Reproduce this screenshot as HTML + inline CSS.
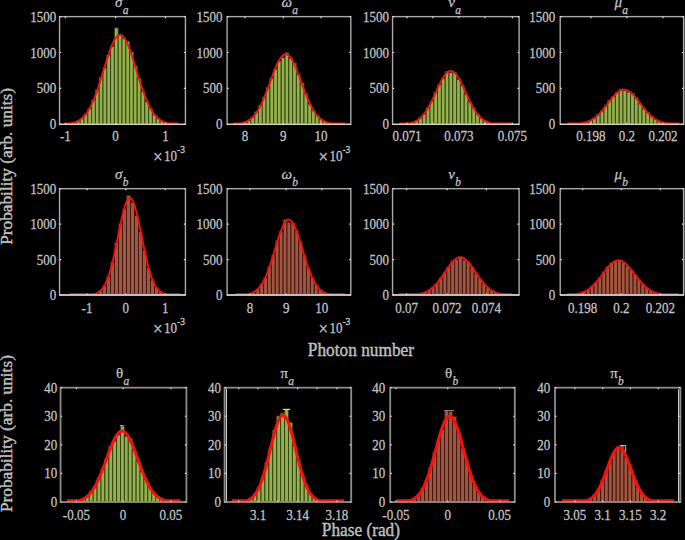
<!DOCTYPE html>
<html><head><meta charset="utf-8"><title>Histograms</title><style>
html,body{margin:0;padding:0;background:#000;width:685px;height:540px;overflow:hidden}
.t{font-family:"Liberation Serif",serif;font-size:13px;fill:#bcbcbc;stroke:#d4d4d4;stroke-width:0.25px}
.ti{font-family:"Liberation Serif",serif;font-style:italic;font-size:15px;fill:#bcbcbc;stroke:#d4d4d4;stroke-width:0.25px}
.lb{font-family:"Liberation Serif",serif;font-size:17.3px;fill:#b4b4b4;stroke:#d8d8d8;stroke-width:0.35px}
</style></head>
<body>
<svg width="685" height="540" viewBox="0 0 685 540" style="display:block">
<rect width="685" height="540" fill="#000"/>
<g fill="#94b14b" stroke="#34441a" stroke-width="1"><rect x="65.00" y="123.86" width="3.80" height="0.47"/><rect x="68.80" y="123.35" width="3.80" height="0.98"/><rect x="72.60" y="122.36" width="3.80" height="1.97"/><rect x="76.40" y="120.82" width="3.80" height="3.51"/><rect x="80.20" y="118.15" width="3.80" height="6.18"/><rect x="84.00" y="113.98" width="3.80" height="10.35"/><rect x="87.80" y="108.55" width="3.80" height="15.78"/><rect x="91.60" y="100.12" width="3.80" height="24.21"/><rect x="95.40" y="89.74" width="3.80" height="34.59"/><rect x="99.20" y="77.32" width="3.80" height="47.01"/><rect x="103.00" y="67.82" width="3.80" height="56.51"/><rect x="106.80" y="55.06" width="3.80" height="69.27"/><rect x="110.60" y="46.59" width="3.80" height="77.74"/><rect x="114.40" y="27.90" width="3.80" height="96.43"/><rect x="118.20" y="34.30" width="3.80" height="90.03"/><rect x="122.00" y="38.10" width="3.80" height="86.23"/><rect x="125.80" y="41.33" width="3.80" height="83.00"/><rect x="129.60" y="51.95" width="3.80" height="72.38"/><rect x="133.40" y="65.87" width="3.80" height="58.46"/><rect x="137.20" y="78.62" width="3.80" height="45.71"/><rect x="141.00" y="91.59" width="3.80" height="32.74"/><rect x="144.80" y="101.54" width="3.80" height="22.79"/><rect x="148.60" y="108.46" width="3.80" height="15.87"/><rect x="152.40" y="114.67" width="3.80" height="9.66"/><rect x="156.20" y="118.47" width="3.80" height="5.86"/><rect x="160.00" y="120.99" width="3.80" height="3.34"/><rect x="163.80" y="122.56" width="3.80" height="1.77"/><rect x="167.60" y="123.39" width="3.80" height="0.94"/><rect x="171.40" y="123.88" width="3.80" height="0.45"/></g>
<polyline points="65.90,123.43 66.70,123.43 67.51,123.43 68.31,123.43 69.11,123.43 69.91,123.43 70.72,123.35 71.52,123.20 72.32,123.03 73.13,122.83 73.93,122.60 74.73,122.35 75.53,122.07 76.34,121.75 77.14,121.40 77.94,121.00 78.75,120.56 79.55,120.07 80.35,119.53 81.15,118.93 81.96,118.28 82.76,117.56 83.56,116.77 84.37,115.91 85.17,114.98 85.97,113.96 86.77,112.87 87.58,111.69 88.38,110.42 89.18,109.06 89.99,107.61 90.79,106.07 91.59,104.43 92.39,102.69 93.20,100.86 94.00,98.94 94.80,96.92 95.61,94.81 96.41,92.62 97.21,90.35 98.01,88.00 98.82,85.58 99.62,83.10 100.42,80.57 101.23,77.99 102.03,75.38 102.83,72.74 103.63,70.10 104.44,67.45 105.24,64.82 106.04,62.21 106.85,59.64 107.65,57.13 108.45,54.69 109.25,52.34 110.06,50.08 110.86,47.94 111.66,45.92 112.47,44.04 113.27,42.31 114.07,40.74 114.87,39.35 115.68,38.15 116.48,37.13 117.28,36.32 118.09,35.71 118.89,35.30 119.69,35.12 120.49,35.14 121.30,35.38 122.10,35.83 122.90,36.49 123.71,37.35 124.51,38.41 125.31,39.66 126.11,41.09 126.92,42.69 127.72,44.46 128.52,46.37 129.33,48.42 130.13,50.59 130.93,52.87 131.73,55.25 132.54,57.71 133.34,60.23 134.14,62.81 134.95,65.42 135.75,68.06 136.55,70.71 137.35,73.35 138.16,75.99 138.96,78.59 139.76,81.16 140.57,83.68 141.37,86.15 142.17,88.55 142.97,90.88 143.78,93.14 144.58,95.31 145.38,97.39 146.19,99.39 146.99,101.29 147.79,103.10 148.59,104.81 149.40,106.43 150.20,107.96 151.00,109.38 151.81,110.72 152.61,111.97 153.41,113.13 154.21,114.20 155.02,115.20 155.82,116.11 156.62,116.96 157.43,117.73 158.23,118.43 159.03,119.08 159.83,119.66 160.64,120.19 161.44,120.67 162.24,121.10 163.05,121.48 163.85,121.83 164.65,122.14 165.45,122.41 166.26,122.66 167.06,122.88 167.86,123.07 168.67,123.24 169.47,123.39 170.27,123.43 171.07,123.43 171.88,123.43 172.68,123.43 173.48,123.43 174.29,123.43 175.09,123.43 175.89,123.43 176.69,123.43 177.50,123.43 178.30,123.43" fill="none" stroke="#ff0c0c" stroke-width="1.85" stroke-linejoin="round"/>
<rect x="59.56" y="16.62" width="125.88" height="107.71" fill="none" stroke="#aaaaaa" stroke-width="1.4"/>
<line x1="59.56" y1="124.33" x2="185.44" y2="124.33" stroke="#d2d2d2" stroke-width="1.4"/>
<path d="M65.30 16.62v1.6M65.30 124.33v-1.6M115.60 16.62v1.6M115.60 124.33v-1.6M165.40 16.62v1.6M165.40 124.33v-1.6M59.56 124.33h1.6M185.44 124.33h-1.6M59.56 88.43h1.6M185.44 88.43h-1.6M59.56 52.52h1.6M185.44 52.52h-1.6M59.56 16.62h1.6M185.44 16.62h-1.6" stroke="#dddddd" stroke-width="1.2" fill="none"/>
<text transform="translate(56.16 129.33) scale(1 1.1)" text-anchor="end" class="t">0</text>
<text transform="translate(56.16 93.43) scale(1 1.1)" text-anchor="end" class="t">500</text>
<text transform="translate(56.16 57.52) scale(1 1.1)" text-anchor="end" class="t">1000</text>
<text transform="translate(56.16 21.62) scale(1 1.1)" text-anchor="end" class="t">1500</text>
<text transform="translate(65.30 140.83) scale(1 1.1)" text-anchor="middle" class="t">-1</text>
<text transform="translate(115.60 140.83) scale(1 1.1)" text-anchor="middle" class="t">0</text>
<text transform="translate(165.40 140.83) scale(1 1.1)" text-anchor="middle" class="t">1</text>
<text transform="translate(184.94 160.63) scale(1 1.1)" text-anchor="end" class="t"><tspan font-size="17" dy="2.1">×</tspan><tspan dy="-2.1" dx="1.4">10</tspan><tspan dy="-6.5" font-size="9.5">-3</tspan></text>
<text x="115.00" y="6.62" class="ti"><tspan>σ</tspan><tspan dy="7.6" dx="0.3" font-size="11.5">a</tspan></text>
<g fill="#94b14b" stroke="#34441a" stroke-width="1"><rect x="235.76" y="123.77" width="3.79" height="0.56"/><rect x="239.55" y="123.17" width="3.79" height="1.16"/><rect x="243.34" y="122.03" width="3.79" height="2.30"/><rect x="247.13" y="120.15" width="3.79" height="4.18"/><rect x="250.92" y="117.18" width="3.79" height="7.15"/><rect x="254.71" y="111.95" width="3.79" height="12.38"/><rect x="258.50" y="105.26" width="3.79" height="19.07"/><rect x="262.29" y="97.01" width="3.79" height="27.32"/><rect x="266.08" y="87.41" width="3.79" height="36.92"/><rect x="269.87" y="78.33" width="3.79" height="46.00"/><rect x="273.66" y="69.02" width="3.79" height="55.31"/><rect x="277.45" y="60.98" width="3.79" height="63.35"/><rect x="281.24" y="57.54" width="3.79" height="66.79"/><rect x="285.03" y="52.93" width="3.79" height="71.40"/><rect x="288.82" y="58.33" width="3.79" height="66.00"/><rect x="292.61" y="63.06" width="3.79" height="61.27"/><rect x="296.40" y="74.48" width="3.79" height="49.85"/><rect x="300.19" y="82.90" width="3.79" height="41.43"/><rect x="303.98" y="93.60" width="3.79" height="30.73"/><rect x="307.77" y="104.11" width="3.79" height="20.22"/><rect x="311.56" y="110.69" width="3.79" height="13.64"/><rect x="315.35" y="115.32" width="3.79" height="9.01"/><rect x="319.14" y="119.21" width="3.79" height="5.12"/><rect x="322.93" y="121.38" width="3.79" height="2.95"/><rect x="326.72" y="122.86" width="3.79" height="1.47"/><rect x="330.51" y="123.63" width="3.79" height="0.70"/><rect x="334.30" y="123.99" width="3.79" height="0.34"/></g>
<polyline points="233.30,123.43 234.10,123.43 234.89,123.43 235.69,123.43 236.49,123.43 237.28,123.43 238.08,123.43 238.88,123.43 239.67,123.43 240.47,123.36 241.26,123.21 242.06,123.03 242.86,122.83 243.65,122.60 244.45,122.34 245.25,122.05 246.04,121.73 246.84,121.36 247.64,120.96 248.43,120.51 249.23,120.01 250.03,119.45 250.82,118.84 251.62,118.18 252.41,117.44 253.21,116.64 254.01,115.78 254.80,114.83 255.60,113.82 256.40,112.72 257.19,111.55 257.99,110.29 258.79,108.95 259.58,107.53 260.38,106.02 261.18,104.44 261.97,102.77 262.77,101.02 263.56,99.20 264.36,97.31 265.16,95.36 265.95,93.34 266.75,91.28 267.55,89.16 268.34,87.02 269.14,84.85 269.94,82.66 270.73,80.47 271.53,78.28 272.32,76.12 273.12,73.98 273.92,71.90 274.71,69.87 275.51,67.91 276.31,66.03 277.10,64.26 277.90,62.59 278.70,61.05 279.49,59.64 280.29,58.37 281.09,57.26 281.88,56.31 282.68,55.53 283.48,54.92 284.27,54.50 285.07,54.26 285.86,54.20 286.66,54.34 287.46,54.65 288.25,55.15 289.05,55.83 289.85,56.68 290.64,57.70 291.44,58.88 292.24,60.20 293.03,61.67 293.83,63.26 294.62,64.98 295.42,66.80 296.22,68.71 297.01,70.69 297.81,72.75 298.61,74.86 299.40,77.01 300.20,79.18 301.00,81.37 301.79,83.56 302.59,85.75 303.39,87.91 304.18,90.04 304.98,92.13 305.77,94.18 306.57,96.17 307.37,98.10 308.16,99.96 308.96,101.75 309.76,103.46 310.55,105.10 311.35,106.65 312.15,108.13 312.94,109.51 313.74,110.82 314.54,112.04 315.33,113.18 316.13,114.25 316.93,115.23 317.72,116.14 318.52,116.98 319.31,117.75 320.11,118.46 320.91,119.10 321.70,119.69 322.50,120.22 323.30,120.70 324.09,121.13 324.89,121.52 325.69,121.87 326.48,122.18 327.28,122.45 328.08,122.70 328.87,122.92 329.67,123.11 330.46,123.28 331.26,123.42 332.06,123.43 332.85,123.43 333.65,123.43 334.45,123.43 335.24,123.43 336.04,123.43 336.84,123.43 337.63,123.43 338.43,123.43 339.23,123.43 340.02,123.43 340.82,123.43 341.61,123.43 342.41,123.43 343.21,123.43 344.00,123.43 344.80,123.43" fill="none" stroke="#ff0c0c" stroke-width="1.85" stroke-linejoin="round"/>
<rect x="227.10" y="16.62" width="123.70" height="107.71" fill="none" stroke="#aaaaaa" stroke-width="1.4"/>
<line x1="227.10" y1="124.33" x2="350.80" y2="124.33" stroke="#d2d2d2" stroke-width="1.4"/>
<path d="M245.00 16.62v1.6M245.00 124.33v-1.6M283.30 16.62v1.6M283.30 124.33v-1.6M321.00 16.62v1.6M321.00 124.33v-1.6M227.10 124.33h1.6M350.80 124.33h-1.6M227.10 88.43h1.6M350.80 88.43h-1.6M227.10 52.52h1.6M350.80 52.52h-1.6M227.10 16.62h1.6M350.80 16.62h-1.6" stroke="#dddddd" stroke-width="1.2" fill="none"/>
<text transform="translate(222.40 129.33) scale(1 1.1)" text-anchor="end" class="t">0</text>
<text transform="translate(222.40 93.43) scale(1 1.1)" text-anchor="end" class="t">500</text>
<text transform="translate(222.40 57.52) scale(1 1.1)" text-anchor="end" class="t">1000</text>
<text transform="translate(222.40 21.62) scale(1 1.1)" text-anchor="end" class="t">1500</text>
<text transform="translate(245.00 140.83) scale(1 1.1)" text-anchor="middle" class="t">8</text>
<text transform="translate(283.30 140.83) scale(1 1.1)" text-anchor="middle" class="t">9</text>
<text transform="translate(321.00 140.83) scale(1 1.1)" text-anchor="middle" class="t">10</text>
<text transform="translate(350.30 160.63) scale(1 1.1)" text-anchor="end" class="t"><tspan font-size="17" dy="2.1">×</tspan><tspan dy="-2.1" dx="1.4">10</tspan><tspan dy="-6.5" font-size="9.5">-3</tspan></text>
<text x="281.45" y="6.62" class="ti"><tspan>ω</tspan><tspan dy="7.6" dx="0.3" font-size="11.5">a</tspan></text>
<g fill="#94b14b" stroke="#34441a" stroke-width="1"><rect x="403.40" y="123.86" width="3.80" height="0.47"/><rect x="407.20" y="123.34" width="3.80" height="0.99"/><rect x="411.00" y="122.43" width="3.80" height="1.90"/><rect x="414.80" y="120.72" width="3.80" height="3.61"/><rect x="418.60" y="118.06" width="3.80" height="6.27"/><rect x="422.40" y="114.05" width="3.80" height="10.28"/><rect x="426.20" y="107.55" width="3.80" height="16.78"/><rect x="430.00" y="101.35" width="3.80" height="22.98"/><rect x="433.80" y="92.43" width="3.80" height="31.90"/><rect x="437.60" y="84.53" width="3.80" height="39.80"/><rect x="441.40" y="78.42" width="3.80" height="45.91"/><rect x="445.20" y="71.52" width="3.80" height="52.81"/><rect x="449.00" y="72.48" width="3.80" height="51.85"/><rect x="452.80" y="72.25" width="3.80" height="52.08"/><rect x="456.60" y="79.34" width="3.80" height="44.99"/><rect x="460.40" y="85.44" width="3.80" height="38.89"/><rect x="464.20" y="94.17" width="3.80" height="30.16"/><rect x="468.00" y="101.98" width="3.80" height="22.35"/><rect x="471.80" y="108.03" width="3.80" height="16.30"/><rect x="475.60" y="113.94" width="3.80" height="10.39"/><rect x="479.40" y="118.30" width="3.80" height="6.03"/><rect x="483.20" y="120.77" width="3.80" height="3.56"/><rect x="487.00" y="122.55" width="3.80" height="1.78"/><rect x="490.80" y="123.44" width="3.80" height="0.89"/><rect x="494.60" y="123.90" width="3.80" height="0.43"/></g>
<polyline points="399.30,123.43 400.11,123.43 400.91,123.43 401.72,123.43 402.53,123.43 403.34,123.43 404.14,123.43 404.95,123.43 405.76,123.43 406.56,123.43 407.37,123.43 408.18,123.43 408.99,123.38 409.79,123.22 410.60,123.04 411.41,122.83 412.21,122.59 413.02,122.33 413.83,122.03 414.64,121.69 415.44,121.32 416.25,120.90 417.06,120.44 417.86,119.92 418.67,119.35 419.48,118.73 420.29,118.05 421.09,117.30 421.90,116.49 422.71,115.61 423.51,114.67 424.32,113.65 425.13,112.56 425.94,111.40 426.74,110.17 427.55,108.87 428.36,107.50 429.16,106.06 429.97,104.56 430.78,103.00 431.59,101.39 432.39,99.73 433.20,98.03 434.01,96.29 434.81,94.53 435.62,92.76 436.43,90.98 437.24,89.21 438.04,87.45 438.85,85.72 439.66,84.04 440.46,82.40 441.27,80.83 442.08,79.34 442.89,77.94 443.69,76.64 444.50,75.45 445.31,74.38 446.11,73.44 446.92,72.64 447.73,71.98 448.54,71.48 449.34,71.13 450.15,70.94 450.96,70.91 451.76,71.04 452.57,71.33 453.38,71.78 454.19,72.38 454.99,73.13 455.80,74.02 456.61,75.04 457.41,76.19 458.22,77.46 459.03,78.82 459.84,80.28 460.64,81.82 461.45,83.44 462.26,85.10 463.06,86.82 463.87,88.57 464.68,90.33 465.49,92.11 466.29,93.89 467.10,95.65 467.91,97.40 468.71,99.11 469.52,100.79 470.33,102.42 471.14,104.00 471.94,105.52 472.75,106.98 473.56,108.38 474.36,109.71 475.17,110.96 475.98,112.15 476.79,113.26 477.59,114.31 478.40,115.28 479.21,116.18 480.01,117.01 480.82,117.78 481.63,118.49 482.44,119.13 483.24,119.72 484.05,120.26 484.86,120.74 485.66,121.17 486.47,121.56 487.28,121.91 488.09,122.22 488.89,122.50 489.70,122.75 490.51,122.96 491.31,123.15 492.12,123.32 492.93,123.43 493.74,123.43 494.54,123.43 495.35,123.43 496.16,123.43 496.96,123.43 497.77,123.43 498.58,123.43 499.39,123.43 500.19,123.43 501.00,123.43 501.81,123.43 502.61,123.43 503.42,123.43 504.23,123.43 505.04,123.43 505.84,123.43 506.65,123.43 507.46,123.43 508.26,123.43 509.07,123.43 509.88,123.43 510.69,123.43 511.49,123.43 512.30,123.43" fill="none" stroke="#ff0c0c" stroke-width="1.85" stroke-linejoin="round"/>
<rect x="392.56" y="16.62" width="126.54" height="107.71" fill="none" stroke="#aaaaaa" stroke-width="1.4"/>
<line x1="392.56" y1="124.33" x2="519.10" y2="124.33" stroke="#d2d2d2" stroke-width="1.4"/>
<path d="M407.00 16.62v1.6M407.00 124.33v-1.6M432.90 16.62v1.6M432.90 124.33v-1.6M458.80 16.62v1.6M458.80 124.33v-1.6M485.00 16.62v1.6M485.00 124.33v-1.6M512.40 16.62v1.6M512.40 124.33v-1.6M392.56 124.33h1.6M519.10 124.33h-1.6M392.56 88.43h1.6M519.10 88.43h-1.6M392.56 52.52h1.6M519.10 52.52h-1.6M392.56 16.62h1.6M519.10 16.62h-1.6" stroke="#dddddd" stroke-width="1.2" fill="none"/>
<text transform="translate(388.96 129.33) scale(1 1.1)" text-anchor="end" class="t">0</text>
<text transform="translate(388.96 93.43) scale(1 1.1)" text-anchor="end" class="t">500</text>
<text transform="translate(388.96 57.52) scale(1 1.1)" text-anchor="end" class="t">1000</text>
<text transform="translate(388.96 21.62) scale(1 1.1)" text-anchor="end" class="t">1500</text>
<text transform="translate(407.00 140.83) scale(1 1.1)" text-anchor="middle" class="t">0.071</text>
<text transform="translate(458.80 140.83) scale(1 1.1)" text-anchor="middle" class="t">0.073</text>
<text transform="translate(512.40 140.83) scale(1 1.1)" text-anchor="middle" class="t">0.075</text>
<text x="448.33" y="6.62" class="ti"><tspan>ν</tspan><tspan dy="7.6" dx="0.3" font-size="11.5">a</tspan></text>
<g fill="#94b14b" stroke="#34441a" stroke-width="1"><rect x="573.60" y="123.98" width="3.80" height="0.35"/><rect x="577.40" y="123.64" width="3.80" height="0.69"/><rect x="581.20" y="123.05" width="3.80" height="1.28"/><rect x="585.00" y="122.05" width="3.80" height="2.28"/><rect x="588.80" y="120.32" width="3.80" height="4.01"/><rect x="592.60" y="118.11" width="3.80" height="6.22"/><rect x="596.40" y="114.69" width="3.80" height="9.64"/><rect x="600.20" y="110.86" width="3.80" height="13.47"/><rect x="604.00" y="106.08" width="3.80" height="18.25"/><rect x="607.80" y="100.18" width="3.80" height="24.15"/><rect x="611.60" y="96.36" width="3.80" height="27.97"/><rect x="615.40" y="92.33" width="3.80" height="32.00"/><rect x="619.20" y="89.16" width="3.80" height="35.17"/><rect x="623.00" y="90.53" width="3.80" height="33.80"/><rect x="626.80" y="91.99" width="3.80" height="32.34"/><rect x="630.60" y="93.19" width="3.80" height="31.14"/><rect x="634.40" y="97.83" width="3.80" height="26.50"/><rect x="638.20" y="103.82" width="3.80" height="20.51"/><rect x="642.00" y="108.70" width="3.80" height="15.63"/><rect x="645.80" y="112.51" width="3.80" height="11.82"/><rect x="649.60" y="116.12" width="3.80" height="8.21"/><rect x="653.40" y="119.33" width="3.80" height="5.00"/><rect x="657.20" y="121.09" width="3.80" height="3.24"/><rect x="661.00" y="122.47" width="3.80" height="1.86"/><rect x="664.80" y="123.34" width="3.80" height="0.99"/><rect x="668.60" y="123.82" width="3.80" height="0.51"/></g>
<polyline points="567.40,123.43 568.20,123.43 569.00,123.43 569.80,123.43 570.60,123.43 571.40,123.43 572.20,123.43 573.00,123.43 573.80,123.43 574.60,123.43 575.40,123.43 576.20,123.43 577.00,123.43 577.80,123.43 578.60,123.43 579.40,123.43 580.20,123.43 581.00,123.39 581.80,123.26 582.60,123.11 583.40,122.94 584.20,122.76 585.00,122.55 585.80,122.32 586.60,122.07 587.40,121.79 588.20,121.49 589.00,121.16 589.80,120.79 590.60,120.40 591.40,119.97 592.20,119.51 593.00,119.01 593.80,118.48 594.60,117.91 595.40,117.30 596.20,116.65 597.00,115.97 597.80,115.24 598.60,114.48 599.40,113.68 600.20,112.84 601.00,111.97 601.80,111.07 602.60,110.13 603.40,109.17 604.20,108.18 605.00,107.17 605.80,106.14 606.60,105.10 607.40,104.05 608.20,103.00 609.00,101.95 609.80,100.91 610.60,99.87 611.40,98.86 612.20,97.87 613.00,96.91 613.80,95.99 614.60,95.10 615.40,94.27 616.20,93.49 617.00,92.77 617.80,92.11 618.60,91.52 619.40,91.01 620.20,90.57 621.00,90.21 621.80,89.93 622.60,89.73 623.40,89.62 624.20,89.60 625.00,89.67 625.80,89.82 626.60,90.06 627.40,90.38 628.20,90.78 629.00,91.26 629.80,91.81 630.60,92.43 631.40,93.12 632.20,93.87 633.00,94.68 633.80,95.54 634.60,96.44 635.40,97.39 636.20,98.36 637.00,99.36 637.80,100.39 638.60,101.43 639.40,102.48 640.20,103.53 641.00,104.58 641.80,105.63 642.60,106.66 643.40,107.68 644.20,108.68 645.00,109.65 645.80,110.60 646.60,111.52 647.40,112.41 648.20,113.27 649.00,114.08 649.80,114.87 650.60,115.61 651.40,116.32 652.20,116.98 653.00,117.61 653.80,118.20 654.60,118.75 655.40,119.27 656.20,119.75 657.00,120.19 657.80,120.60 658.60,120.98 659.40,121.33 660.20,121.64 661.00,121.93 661.80,122.20 662.60,122.44 663.40,122.66 664.20,122.85 665.00,123.03 665.80,123.19 666.60,123.33 667.40,123.43 668.20,123.43 669.00,123.43 669.80,123.43 670.60,123.43 671.40,123.43 672.20,123.43 673.00,123.43 673.80,123.43 674.60,123.43 675.40,123.43 676.20,123.43 677.00,123.43 677.80,123.43 678.60,123.43 679.40,123.43" fill="none" stroke="#ff0c0c" stroke-width="1.85" stroke-linejoin="round"/>
<rect x="560.20" y="16.62" width="123.40" height="107.71" fill="none" stroke="#aaaaaa" stroke-width="1.4"/>
<line x1="560.20" y1="124.33" x2="683.60" y2="124.33" stroke="#d2d2d2" stroke-width="1.4"/>
<path d="M590.90 16.62v1.6M590.90 124.33v-1.6M626.90 16.62v1.6M626.90 124.33v-1.6M663.00 16.62v1.6M663.00 124.33v-1.6M560.20 124.33h1.6M683.60 124.33h-1.6M560.20 88.43h1.6M683.60 88.43h-1.6M560.20 52.52h1.6M683.60 52.52h-1.6M560.20 16.62h1.6M683.60 16.62h-1.6" stroke="#dddddd" stroke-width="1.2" fill="none"/>
<text transform="translate(555.30 129.33) scale(1 1.1)" text-anchor="end" class="t">0</text>
<text transform="translate(555.30 93.43) scale(1 1.1)" text-anchor="end" class="t">500</text>
<text transform="translate(555.30 57.52) scale(1 1.1)" text-anchor="end" class="t">1000</text>
<text transform="translate(555.30 21.62) scale(1 1.1)" text-anchor="end" class="t">1500</text>
<text transform="translate(590.90 140.83) scale(1 1.1)" text-anchor="middle" class="t">0.198</text>
<text transform="translate(626.90 140.83) scale(1 1.1)" text-anchor="middle" class="t">0.2</text>
<text transform="translate(663.00 140.83) scale(1 1.1)" text-anchor="middle" class="t">0.202</text>
<text x="614.40" y="6.62" class="ti"><tspan>μ</tspan><tspan dy="7.6" dx="0.3" font-size="11.5">a</tspan></text>
<g fill="#a1563d" stroke="#3e1a16" stroke-width="1"><rect x="90.50" y="294.36" width="4.00" height="0.64"/><rect x="94.50" y="293.26" width="4.00" height="1.74"/><rect x="98.50" y="290.52" width="4.00" height="4.48"/><rect x="102.50" y="285.67" width="4.00" height="9.33"/><rect x="106.50" y="276.52" width="4.00" height="18.48"/><rect x="110.50" y="261.90" width="4.00" height="33.10"/><rect x="114.50" y="242.36" width="4.00" height="52.64"/><rect x="118.50" y="223.41" width="4.00" height="71.59"/><rect x="122.50" y="208.92" width="4.00" height="86.08"/><rect x="126.50" y="195.31" width="4.00" height="99.69"/><rect x="130.50" y="202.56" width="4.00" height="92.44"/><rect x="134.50" y="215.36" width="4.00" height="79.64"/><rect x="138.50" y="231.58" width="4.00" height="63.42"/><rect x="142.50" y="250.27" width="4.00" height="44.73"/><rect x="146.50" y="268.13" width="4.00" height="26.87"/><rect x="150.50" y="280.01" width="4.00" height="14.99"/><rect x="154.50" y="287.50" width="4.00" height="7.50"/><rect x="158.50" y="291.65" width="4.00" height="3.35"/><rect x="162.50" y="293.74" width="4.00" height="1.26"/><rect x="166.50" y="294.55" width="4.00" height="0.45"/></g>
<polyline points="69.40,294.10 70.19,294.10 70.98,294.10 71.78,294.10 72.57,294.10 73.36,294.10 74.15,294.10 74.95,294.10 75.74,294.10 76.53,294.10 77.32,294.10 78.11,294.10 78.91,294.10 79.70,294.10 80.49,294.10 81.28,294.10 82.07,294.10 82.87,294.10 83.66,294.10 84.45,294.10 85.24,294.10 86.04,294.10 86.83,294.10 87.62,294.10 88.41,294.10 89.20,294.10 90.00,294.10 90.79,294.10 91.58,294.10 92.37,294.10 93.16,294.10 93.96,294.05 94.75,293.84 95.54,293.58 96.33,293.28 97.12,292.92 97.92,292.51 98.71,292.02 99.50,291.44 100.29,290.78 101.09,290.02 101.88,289.15 102.67,288.16 103.46,287.03 104.25,285.76 105.05,284.34 105.84,282.75 106.63,280.99 107.42,279.05 108.22,276.92 109.01,274.60 109.80,272.08 110.59,269.37 111.38,266.46 112.18,263.37 112.97,260.11 113.76,256.68 114.55,253.10 115.34,249.39 116.14,245.58 116.93,241.69 117.72,237.75 118.51,233.80 119.31,229.87 120.10,225.99 120.89,222.22 121.68,218.59 122.47,215.13 123.27,211.90 124.06,208.92 124.85,206.24 125.64,203.88 126.43,201.88 127.23,200.27 128.02,199.06 128.81,198.28 129.60,197.92 130.40,198.00 131.19,198.52 131.98,199.47 132.77,200.83 133.56,202.59 134.36,204.73 135.15,207.21 135.94,210.01 136.73,213.09 137.52,216.41 138.32,219.94 139.11,223.63 139.90,227.44 140.69,231.34 141.49,235.28 142.28,239.23 143.07,243.16 143.86,247.02 144.65,250.80 145.45,254.46 146.24,257.98 147.03,261.35 147.82,264.56 148.61,267.58 149.41,270.41 150.20,273.05 150.99,275.49 151.78,277.74 152.57,279.80 153.37,281.67 154.16,283.37 154.95,284.89 155.74,286.26 156.54,287.47 157.33,288.55 158.12,289.49 158.91,290.32 159.70,291.04 160.50,291.67 161.29,292.21 162.08,292.67 162.87,293.07 163.67,293.40 164.46,293.68 165.25,293.92 166.04,294.10 166.83,294.10 167.63,294.10 168.42,294.10 169.21,294.10 170.00,294.10 170.79,294.10 171.59,294.10 172.38,294.10 173.17,294.10 173.96,294.10 174.75,294.10 175.55,294.10 176.34,294.10 177.13,294.10 177.92,294.10 178.72,294.10 179.51,294.10 180.30,294.10" fill="none" stroke="#ff0c0c" stroke-width="1.85" stroke-linejoin="round"/>
<rect x="59.56" y="188.67" width="125.88" height="106.33" fill="none" stroke="#aaaaaa" stroke-width="1.4"/>
<line x1="59.56" y1="295.00" x2="185.44" y2="295.00" stroke="#d2d2d2" stroke-width="1.4"/>
<path d="M87.00 188.67v1.6M87.00 295.00v-1.6M125.80 188.67v1.6M125.80 295.00v-1.6M165.20 188.67v1.6M165.20 295.00v-1.6M59.56 295.00h1.6M185.44 295.00h-1.6M59.56 259.56h1.6M185.44 259.56h-1.6M59.56 224.11h1.6M185.44 224.11h-1.6M59.56 188.67h1.6M185.44 188.67h-1.6" stroke="#dddddd" stroke-width="1.2" fill="none"/>
<text transform="translate(56.16 300.00) scale(1 1.1)" text-anchor="end" class="t">0</text>
<text transform="translate(56.16 264.56) scale(1 1.1)" text-anchor="end" class="t">500</text>
<text transform="translate(56.16 229.11) scale(1 1.1)" text-anchor="end" class="t">1000</text>
<text transform="translate(56.16 193.67) scale(1 1.1)" text-anchor="end" class="t">1500</text>
<text transform="translate(87.00 312.60) scale(1 1.1)" text-anchor="middle" class="t">-1</text>
<text transform="translate(125.80 312.60) scale(1 1.1)" text-anchor="middle" class="t">0</text>
<text transform="translate(165.20 312.60) scale(1 1.1)" text-anchor="middle" class="t">1</text>
<text transform="translate(184.94 332.50) scale(1 1.1)" text-anchor="end" class="t"><tspan font-size="17" dy="2.1">×</tspan><tspan dy="-2.1" dx="1.4">10</tspan><tspan dy="-6.5" font-size="9.5">-3</tspan></text>
<text x="115.00" y="178.67" class="ti"><tspan>σ</tspan><tspan dy="7.6" dx="0.3" font-size="11.5">b</tspan></text>
<g fill="#a1563d" stroke="#3e1a16" stroke-width="1"><rect x="244.10" y="294.43" width="3.90" height="0.57"/><rect x="248.00" y="293.67" width="3.90" height="1.33"/><rect x="251.90" y="291.94" width="3.90" height="3.06"/><rect x="255.80" y="289.03" width="3.90" height="5.97"/><rect x="259.70" y="283.87" width="3.90" height="11.13"/><rect x="263.60" y="277.61" width="3.90" height="17.39"/><rect x="267.50" y="266.60" width="3.90" height="28.40"/><rect x="271.40" y="254.81" width="3.90" height="40.19"/><rect x="275.30" y="240.85" width="3.90" height="54.15"/><rect x="279.20" y="231.16" width="3.90" height="63.84"/><rect x="283.10" y="219.32" width="3.90" height="75.68"/><rect x="287.00" y="222.17" width="3.90" height="72.83"/><rect x="290.90" y="222.72" width="3.90" height="72.28"/><rect x="294.80" y="230.35" width="3.90" height="64.65"/><rect x="298.70" y="241.81" width="3.90" height="53.19"/><rect x="302.60" y="255.66" width="3.90" height="39.34"/><rect x="306.50" y="267.89" width="3.90" height="27.11"/><rect x="310.40" y="277.61" width="3.90" height="17.39"/><rect x="314.30" y="284.69" width="3.90" height="10.31"/><rect x="318.20" y="289.66" width="3.90" height="5.34"/><rect x="322.10" y="292.26" width="3.90" height="2.74"/><rect x="326.00" y="293.72" width="3.90" height="1.28"/><rect x="329.90" y="294.46" width="3.90" height="0.54"/></g>
<polyline points="235.40,294.10 236.19,294.10 236.97,294.10 237.75,294.10 238.54,294.10 239.33,294.10 240.11,294.10 240.90,294.10 241.68,294.10 242.47,294.10 243.25,294.10 244.03,294.10 244.82,294.10 245.61,294.10 246.39,294.10 247.18,294.10 247.96,294.09 248.75,293.93 249.53,293.73 250.31,293.51 251.10,293.26 251.88,292.96 252.67,292.63 253.46,292.24 254.24,291.81 255.03,291.32 255.81,290.77 256.60,290.16 257.38,289.47 258.17,288.71 258.95,287.86 259.74,286.93 260.52,285.91 261.31,284.79 262.09,283.57 262.88,282.24 263.66,280.81 264.44,279.27 265.23,277.62 266.01,275.86 266.80,273.99 267.59,272.01 268.37,269.93 269.15,267.75 269.94,265.47 270.73,263.12 271.51,260.68 272.30,258.19 273.08,255.64 273.87,253.05 274.65,250.44 275.44,247.82 276.22,245.21 277.00,242.62 277.79,240.09 278.57,237.62 279.36,235.24 280.14,232.96 280.93,230.80 281.72,228.79 282.50,226.94 283.29,225.27 284.07,223.79 284.86,222.51 285.64,221.46 286.43,220.63 287.21,220.04 288.00,219.70 288.78,219.60 289.56,219.75 290.35,220.14 291.13,220.78 291.92,221.65 292.71,222.75 293.49,224.07 294.27,225.59 295.06,227.30 295.85,229.19 296.63,231.23 297.42,233.41 298.20,235.71 298.99,238.12 299.77,240.60 300.56,243.15 301.34,245.74 302.12,248.35 302.91,250.97 303.69,253.58 304.48,256.16 305.26,258.70 306.05,261.19 306.84,263.60 307.62,265.94 308.41,268.20 309.19,270.36 309.98,272.42 310.76,274.38 311.55,276.23 312.33,277.96 313.12,279.59 313.90,281.11 314.69,282.52 315.47,283.82 316.25,285.02 317.04,286.13 317.82,287.13 318.61,288.04 319.39,288.87 320.18,289.62 320.97,290.29 321.75,290.89 322.54,291.43 323.32,291.90 324.11,292.33 324.89,292.70 325.68,293.02 326.46,293.31 327.25,293.56 328.03,293.78 328.81,293.96 329.60,294.10 330.38,294.10 331.17,294.10 331.96,294.10 332.74,294.10 333.52,294.10 334.31,294.10 335.10,294.10 335.88,294.10 336.67,294.10 337.45,294.10 338.24,294.10 339.02,294.10 339.81,294.10 340.59,294.10 341.38,294.10 342.16,294.10 342.94,294.10 343.73,294.10 344.51,294.10 345.30,294.10" fill="none" stroke="#ff0c0c" stroke-width="1.85" stroke-linejoin="round"/>
<rect x="227.10" y="188.67" width="123.70" height="106.33" fill="none" stroke="#aaaaaa" stroke-width="1.4"/>
<line x1="227.10" y1="295.00" x2="350.80" y2="295.00" stroke="#d2d2d2" stroke-width="1.4"/>
<path d="M249.90 188.67v1.6M249.90 295.00v-1.6M286.20 188.67v1.6M286.20 295.00v-1.6M321.80 188.67v1.6M321.80 295.00v-1.6M227.10 295.00h1.6M350.80 295.00h-1.6M227.10 259.56h1.6M350.80 259.56h-1.6M227.10 224.11h1.6M350.80 224.11h-1.6M227.10 188.67h1.6M350.80 188.67h-1.6" stroke="#dddddd" stroke-width="1.2" fill="none"/>
<text transform="translate(222.40 300.00) scale(1 1.1)" text-anchor="end" class="t">0</text>
<text transform="translate(222.40 264.56) scale(1 1.1)" text-anchor="end" class="t">500</text>
<text transform="translate(222.40 229.11) scale(1 1.1)" text-anchor="end" class="t">1000</text>
<text transform="translate(222.40 193.67) scale(1 1.1)" text-anchor="end" class="t">1500</text>
<text transform="translate(249.90 312.60) scale(1 1.1)" text-anchor="middle" class="t">8</text>
<text transform="translate(286.20 312.60) scale(1 1.1)" text-anchor="middle" class="t">9</text>
<text transform="translate(321.80 312.60) scale(1 1.1)" text-anchor="middle" class="t">10</text>
<text transform="translate(350.30 332.50) scale(1 1.1)" text-anchor="end" class="t"><tspan font-size="17" dy="2.1">×</tspan><tspan dy="-2.1" dx="1.4">10</tspan><tspan dy="-6.5" font-size="9.5">-3</tspan></text>
<text x="281.45" y="178.67" class="ti"><tspan>ω</tspan><tspan dy="7.6" dx="0.3" font-size="11.5">b</tspan></text>
<g fill="#a1563d" stroke="#3e1a16" stroke-width="1"><rect x="411.70" y="294.64" width="3.90" height="0.36"/><rect x="415.60" y="294.27" width="3.90" height="0.73"/><rect x="419.50" y="293.48" width="3.90" height="1.52"/><rect x="423.40" y="292.12" width="3.90" height="2.88"/><rect x="427.30" y="290.05" width="3.90" height="4.95"/><rect x="431.20" y="287.05" width="3.90" height="7.95"/><rect x="435.10" y="283.22" width="3.90" height="11.78"/><rect x="439.00" y="277.74" width="3.90" height="17.26"/><rect x="442.90" y="272.21" width="3.90" height="22.79"/><rect x="446.80" y="266.78" width="3.90" height="28.22"/><rect x="450.70" y="260.83" width="3.90" height="34.17"/><rect x="454.60" y="259.63" width="3.90" height="35.37"/><rect x="458.50" y="256.55" width="3.90" height="38.45"/><rect x="462.40" y="259.97" width="3.90" height="35.03"/><rect x="466.30" y="261.79" width="3.90" height="33.21"/><rect x="470.20" y="267.11" width="3.90" height="27.89"/><rect x="474.10" y="273.29" width="3.90" height="21.71"/><rect x="478.00" y="278.21" width="3.90" height="16.79"/><rect x="481.90" y="283.47" width="3.90" height="11.53"/><rect x="485.80" y="287.39" width="3.90" height="7.61"/><rect x="489.70" y="290.22" width="3.90" height="4.78"/><rect x="493.60" y="292.40" width="3.90" height="2.60"/><rect x="497.50" y="293.63" width="3.90" height="1.37"/><rect x="501.40" y="294.29" width="3.90" height="0.71"/><rect x="505.30" y="294.66" width="3.90" height="0.34"/></g>
<polyline points="398.70,294.10 399.51,294.10 400.32,294.10 401.13,294.10 401.95,294.10 402.76,294.10 403.57,294.10 404.38,294.10 405.19,294.10 406.00,294.10 406.81,294.10 407.63,294.10 408.44,294.10 409.25,294.10 410.06,294.10 410.87,294.10 411.68,294.10 412.49,294.10 413.31,294.10 414.12,294.10 414.93,294.10 415.74,294.10 416.55,294.10 417.36,294.10 418.17,294.10 418.99,294.02 419.80,293.87 420.61,293.70 421.42,293.51 422.23,293.29 423.04,293.06 423.85,292.79 424.67,292.50 425.48,292.17 426.29,291.81 427.10,291.42 427.91,290.99 428.72,290.52 429.53,290.01 430.35,289.45 431.16,288.86 431.97,288.21 432.78,287.52 433.59,286.78 434.40,286.00 435.21,285.17 436.03,284.29 436.84,283.37 437.65,282.40 438.46,281.39 439.27,280.34 440.08,279.25 440.89,278.13 441.71,276.99 442.52,275.81 443.33,274.62 444.14,273.42 444.95,272.21 445.76,270.99 446.57,269.79 447.39,268.60 448.20,267.43 449.01,266.29 449.82,265.18 450.63,264.12 451.44,263.12 452.25,262.17 453.07,261.29 453.88,260.48 454.69,259.75 455.50,259.11 456.31,258.56 457.12,258.10 457.93,257.75 458.75,257.49 459.56,257.34 460.37,257.30 461.18,257.36 461.99,257.53 462.80,257.80 463.61,258.17 464.43,258.65 465.24,259.21 466.05,259.87 466.86,260.61 467.67,261.43 468.48,262.32 469.29,263.28 470.11,264.30 470.92,265.37 471.73,266.48 472.54,267.62 473.35,268.80 474.16,269.99 474.97,271.20 475.79,272.41 476.60,273.62 477.41,274.82 478.22,276.01 479.03,277.18 479.84,278.33 480.65,279.44 481.47,280.52 482.28,281.56 483.09,282.57 483.90,283.53 484.71,284.44 485.52,285.31 486.33,286.14 487.15,286.91 487.96,287.64 488.77,288.32 489.58,288.96 490.39,289.55 491.20,290.10 492.01,290.60 492.83,291.06 493.64,291.49 494.45,291.88 495.26,292.23 496.07,292.55 496.88,292.84 497.69,293.10 498.51,293.33 499.32,293.54 500.13,293.73 500.94,293.89 501.75,294.04 502.56,294.10 503.37,294.10 504.19,294.10 505.00,294.10 505.81,294.10 506.62,294.10 507.43,294.10 508.24,294.10 509.05,294.10 509.87,294.10 510.68,294.10 511.49,294.10 512.30,294.10" fill="none" stroke="#ff0c0c" stroke-width="1.85" stroke-linejoin="round"/>
<rect x="392.56" y="188.67" width="126.54" height="106.33" fill="none" stroke="#aaaaaa" stroke-width="1.4"/>
<line x1="392.56" y1="295.00" x2="519.10" y2="295.00" stroke="#d2d2d2" stroke-width="1.4"/>
<path d="M406.60 188.67v1.6M406.60 295.00v-1.6M447.00 188.67v1.6M447.00 295.00v-1.6M486.40 188.67v1.6M486.40 295.00v-1.6M392.56 295.00h1.6M519.10 295.00h-1.6M392.56 259.56h1.6M519.10 259.56h-1.6M392.56 224.11h1.6M519.10 224.11h-1.6M392.56 188.67h1.6M519.10 188.67h-1.6" stroke="#dddddd" stroke-width="1.2" fill="none"/>
<text transform="translate(388.96 300.00) scale(1 1.1)" text-anchor="end" class="t">0</text>
<text transform="translate(388.96 264.56) scale(1 1.1)" text-anchor="end" class="t">500</text>
<text transform="translate(388.96 229.11) scale(1 1.1)" text-anchor="end" class="t">1000</text>
<text transform="translate(388.96 193.67) scale(1 1.1)" text-anchor="end" class="t">1500</text>
<text transform="translate(406.60 312.60) scale(1 1.1)" text-anchor="middle" class="t">0.07</text>
<text transform="translate(447.00 312.60) scale(1 1.1)" text-anchor="middle" class="t">0.072</text>
<text transform="translate(486.40 312.60) scale(1 1.1)" text-anchor="middle" class="t">0.074</text>
<text x="448.33" y="178.67" class="ti"><tspan>ν</tspan><tspan dy="7.6" dx="0.3" font-size="11.5">b</tspan></text>
<g fill="#a1563d" stroke="#3e1a16" stroke-width="1"><rect x="570.70" y="294.45" width="3.90" height="0.55"/><rect x="574.60" y="293.94" width="3.90" height="1.06"/><rect x="578.50" y="293.06" width="3.90" height="1.94"/><rect x="582.40" y="291.48" width="3.90" height="3.52"/><rect x="586.30" y="289.47" width="3.90" height="5.53"/><rect x="590.20" y="286.19" width="3.90" height="8.81"/><rect x="594.10" y="282.61" width="3.90" height="12.39"/><rect x="598.00" y="277.66" width="3.90" height="17.34"/><rect x="601.90" y="271.88" width="3.90" height="23.12"/><rect x="605.80" y="266.60" width="3.90" height="28.40"/><rect x="609.70" y="262.50" width="3.90" height="32.50"/><rect x="613.60" y="261.25" width="3.90" height="33.75"/><rect x="617.50" y="260.12" width="3.90" height="34.88"/><rect x="621.40" y="262.30" width="3.90" height="32.70"/><rect x="625.30" y="265.94" width="3.90" height="29.06"/><rect x="629.20" y="269.59" width="3.90" height="25.41"/><rect x="633.10" y="274.13" width="3.90" height="20.87"/><rect x="637.00" y="279.28" width="3.90" height="15.72"/><rect x="640.90" y="283.97" width="3.90" height="11.03"/><rect x="644.80" y="287.50" width="3.90" height="7.50"/><rect x="648.70" y="290.53" width="3.90" height="4.47"/><rect x="652.60" y="292.38" width="3.90" height="2.62"/><rect x="656.50" y="293.51" width="3.90" height="1.49"/><rect x="660.40" y="294.23" width="3.90" height="0.77"/><rect x="664.30" y="294.62" width="3.90" height="0.38"/></g>
<polyline points="567.00,294.10 567.80,294.10 568.60,294.10 569.40,294.10 570.19,294.10 570.99,294.10 571.79,294.10 572.59,294.10 573.39,294.10 574.19,294.10 574.99,294.10 575.78,294.08 576.58,293.94 577.38,293.79 578.18,293.63 578.98,293.44 579.78,293.24 580.58,293.01 581.37,292.76 582.17,292.48 582.97,292.18 583.77,291.85 584.57,291.49 585.37,291.09 586.17,290.67 586.96,290.21 587.76,289.71 588.56,289.17 589.36,288.60 590.16,287.99 590.96,287.34 591.76,286.66 592.55,285.93 593.35,285.16 594.15,284.36 594.95,283.52 595.75,282.65 596.55,281.74 597.35,280.80 598.14,279.83 598.94,278.84 599.74,277.83 600.54,276.80 601.34,275.75 602.14,274.70 602.94,273.64 603.73,272.59 604.53,271.54 605.33,270.50 606.13,269.49 606.93,268.50 607.73,267.53 608.53,266.61 609.32,265.73 610.12,264.90 610.92,264.12 611.72,263.40 612.52,262.75 613.32,262.16 614.12,261.65 614.91,261.22 615.71,260.87 616.51,260.60 617.31,260.41 618.11,260.32 618.91,260.31 619.71,260.38 620.50,260.55 621.30,260.80 622.10,261.13 622.90,261.55 623.70,262.04 624.50,262.61 625.30,263.24 626.09,263.95 626.89,264.71 627.69,265.53 628.49,266.40 629.29,267.32 630.09,268.27 630.89,269.26 631.68,270.27 632.48,271.30 633.28,272.34 634.08,273.40 634.88,274.45 635.68,275.51 636.48,276.56 637.27,277.59 638.07,278.61 638.87,279.61 639.67,280.58 640.47,281.52 641.27,282.44 642.07,283.32 642.86,284.17 643.66,284.98 644.46,285.76 645.26,286.49 646.06,287.19 646.86,287.85 647.66,288.47 648.45,289.05 649.25,289.59 650.05,290.09 650.85,290.56 651.65,291.00 652.45,291.40 653.25,291.77 654.04,292.11 654.84,292.42 655.64,292.70 656.44,292.96 657.24,293.19 658.04,293.40 658.84,293.59 659.63,293.76 660.43,293.91 661.23,294.05 662.03,294.10 662.83,294.10 663.63,294.10 664.43,294.10 665.22,294.10 666.02,294.10 666.82,294.10 667.62,294.10 668.42,294.10 669.22,294.10 670.02,294.10 670.81,294.10 671.61,294.10 672.41,294.10 673.21,294.10 674.01,294.10 674.81,294.10 675.61,294.10 676.40,294.10 677.20,294.10 678.00,294.10 678.80,294.10" fill="none" stroke="#ff0c0c" stroke-width="1.85" stroke-linejoin="round"/>
<rect x="560.20" y="188.67" width="123.40" height="106.33" fill="none" stroke="#aaaaaa" stroke-width="1.4"/>
<line x1="560.20" y1="295.00" x2="683.60" y2="295.00" stroke="#d2d2d2" stroke-width="1.4"/>
<path d="M582.60 188.67v1.6M582.60 295.00v-1.6M621.30 188.67v1.6M621.30 295.00v-1.6M660.30 188.67v1.6M660.30 295.00v-1.6M560.20 295.00h1.6M683.60 295.00h-1.6M560.20 259.56h1.6M683.60 259.56h-1.6M560.20 224.11h1.6M683.60 224.11h-1.6M560.20 188.67h1.6M683.60 188.67h-1.6" stroke="#dddddd" stroke-width="1.2" fill="none"/>
<text transform="translate(555.30 300.00) scale(1 1.1)" text-anchor="end" class="t">0</text>
<text transform="translate(555.30 264.56) scale(1 1.1)" text-anchor="end" class="t">500</text>
<text transform="translate(555.30 229.11) scale(1 1.1)" text-anchor="end" class="t">1000</text>
<text transform="translate(555.30 193.67) scale(1 1.1)" text-anchor="end" class="t">1500</text>
<text transform="translate(582.60 312.60) scale(1 1.1)" text-anchor="middle" class="t">0.198</text>
<text transform="translate(621.30 312.60) scale(1 1.1)" text-anchor="middle" class="t">0.2</text>
<text transform="translate(660.30 312.60) scale(1 1.1)" text-anchor="middle" class="t">0.202</text>
<text x="614.40" y="178.67" class="ti"><tspan>μ</tspan><tspan dy="7.6" dx="0.3" font-size="11.5">b</tspan></text>
<g fill="#94b14b" stroke="#34441a" stroke-width="1"><rect x="69.80" y="501.60" width="3.90" height="0.40"/><rect x="73.70" y="501.12" width="3.90" height="0.88"/><rect x="77.60" y="500.29" width="3.90" height="1.71"/><rect x="81.50" y="498.81" width="3.90" height="3.19"/><rect x="85.40" y="496.28" width="3.90" height="5.72"/><rect x="89.30" y="491.65" width="3.90" height="10.35"/><rect x="93.20" y="486.62" width="3.90" height="15.38"/><rect x="97.10" y="477.77" width="3.90" height="24.23"/><rect x="101.00" y="468.39" width="3.90" height="33.61"/><rect x="104.90" y="458.64" width="3.90" height="43.36"/><rect x="108.80" y="446.24" width="3.90" height="55.76"/><rect x="112.70" y="441.09" width="3.90" height="60.91"/><rect x="116.60" y="434.83" width="3.90" height="67.17"/><rect x="120.50" y="426.00" width="3.90" height="76.00"/><rect x="124.40" y="436.19" width="3.90" height="65.81"/><rect x="128.30" y="438.42" width="3.90" height="63.58"/><rect x="132.20" y="450.42" width="3.90" height="51.58"/><rect x="136.10" y="461.11" width="3.90" height="40.89"/><rect x="140.00" y="471.55" width="3.90" height="30.45"/><rect x="143.90" y="479.49" width="3.90" height="22.51"/><rect x="147.80" y="487.30" width="3.90" height="14.70"/><rect x="151.70" y="492.72" width="3.90" height="9.28"/><rect x="155.60" y="496.56" width="3.90" height="5.44"/><rect x="159.50" y="498.98" width="3.90" height="3.02"/><rect x="163.40" y="500.42" width="3.90" height="1.58"/><rect x="167.30" y="501.25" width="3.90" height="0.75"/><rect x="171.20" y="501.67" width="3.90" height="0.33"/></g>
<polyline points="66.90,500.70 67.71,500.70 68.52,500.70 69.33,500.70 70.14,500.70 70.95,500.70 71.76,500.70 72.56,500.70 73.37,500.70 74.18,500.70 74.99,500.70 75.80,500.70 76.61,500.70 77.42,500.70 78.23,500.64 79.04,500.43 79.85,500.19 80.66,499.92 81.47,499.61 82.28,499.27 83.09,498.89 83.90,498.46 84.70,497.99 85.51,497.46 86.32,496.88 87.13,496.24 87.94,495.54 88.75,494.77 89.56,493.94 90.37,493.03 91.18,492.04 91.99,490.98 92.80,489.84 93.61,488.61 94.42,487.30 95.22,485.90 96.03,484.42 96.84,482.85 97.65,481.20 98.46,479.47 99.27,477.66 100.08,475.78 100.89,473.83 101.70,471.81 102.51,469.73 103.32,467.61 104.13,465.44 104.94,463.24 105.75,461.02 106.56,458.78 107.36,456.55 108.17,454.33 108.98,452.14 109.79,449.99 110.60,447.89 111.41,445.86 112.22,443.90 113.03,442.04 113.84,440.29 114.65,438.66 115.46,437.15 116.27,435.79 117.08,434.59 117.88,433.54 118.69,432.67 119.50,431.98 120.31,431.46 121.12,431.14 121.93,431.00 122.74,431.06 123.55,431.31 124.36,431.74 125.17,432.36 125.98,433.16 126.79,434.13 127.60,435.27 128.41,436.57 129.22,438.01 130.02,439.59 130.83,441.30 131.64,443.12 132.45,445.03 133.26,447.03 134.07,449.11 134.88,451.24 135.69,453.42 136.50,455.63 137.31,457.85 138.12,460.09 138.93,462.32 139.74,464.53 140.55,466.71 141.35,468.85 142.16,470.95 142.97,472.99 143.78,474.97 144.59,476.89 145.40,478.73 146.21,480.49 147.02,482.18 147.83,483.78 148.64,485.29 149.45,486.73 150.26,488.07 151.07,489.33 151.88,490.51 152.68,491.61 153.49,492.63 154.30,493.57 155.11,494.43 155.92,495.23 156.73,495.96 157.54,496.62 158.35,497.23 159.16,497.77 159.97,498.27 160.78,498.72 161.59,499.12 162.40,499.47 163.20,499.79 164.01,500.08 164.82,500.33 165.63,500.55 166.44,500.70 167.25,500.70 168.06,500.70 168.87,500.70 169.68,500.70 170.49,500.70 171.30,500.70 172.11,500.70 172.92,500.70 173.73,500.70 174.53,500.70 175.34,500.70 176.15,500.70 176.96,500.70 177.77,500.70 178.58,500.70 179.39,500.70 180.20,500.70" fill="none" stroke="#ff0c0c" stroke-width="3.0" stroke-linejoin="round"/>
<rect x="60.56" y="387.67" width="125.88" height="114.33" fill="none" stroke="#8c8c8c" stroke-width="1.8"/>
<path d="M76.40 387.67v1.6M76.40 502.00v-1.6M123.10 387.67v1.6M123.10 502.00v-1.6M170.90 387.67v1.6M170.90 502.00v-1.6M60.56 502.00h1.6M186.44 502.00h-1.6M60.56 473.42h1.6M186.44 473.42h-1.6M60.56 444.84h1.6M186.44 444.84h-1.6M60.56 416.25h1.6M186.44 416.25h-1.6M60.56 387.67h1.6M186.44 387.67h-1.6" stroke="#dddddd" stroke-width="1.2" fill="none"/>
<text transform="translate(57.16 507.00) scale(1 1.1)" text-anchor="end" class="t">0</text>
<text transform="translate(57.16 478.42) scale(1 1.1)" text-anchor="end" class="t">10</text>
<text transform="translate(57.16 449.84) scale(1 1.1)" text-anchor="end" class="t">20</text>
<text transform="translate(57.16 421.25) scale(1 1.1)" text-anchor="end" class="t">30</text>
<text transform="translate(57.16 392.67) scale(1 1.1)" text-anchor="end" class="t">40</text>
<text transform="translate(76.40 519.90) scale(1 1.1)" text-anchor="middle" class="t">-0.05</text>
<text transform="translate(123.10 519.90) scale(1 1.1)" text-anchor="middle" class="t">0</text>
<text transform="translate(170.90 519.90) scale(1 1.1)" text-anchor="middle" class="t">0.05</text>
<text x="116.00" y="377.67" class="ti"><tspan font-style="normal">θ</tspan><tspan dy="7.6" dx="0.3" font-size="11.5">a</tspan></text>
<g fill="#94b14b" stroke="#34441a" stroke-width="1"><rect x="241.33" y="501.36" width="3.93" height="0.64"/><rect x="245.26" y="500.39" width="3.93" height="1.61"/><rect x="249.19" y="498.30" width="3.93" height="3.70"/><rect x="253.12" y="494.13" width="3.93" height="7.87"/><rect x="257.05" y="487.39" width="3.93" height="14.61"/><rect x="260.98" y="476.82" width="3.93" height="25.18"/><rect x="264.91" y="462.44" width="3.93" height="39.56"/><rect x="268.84" y="447.73" width="3.93" height="54.27"/><rect x="272.77" y="430.12" width="3.93" height="71.88"/><rect x="276.70" y="416.10" width="3.93" height="85.90"/><rect x="280.63" y="413.10" width="3.93" height="88.90"/><rect x="284.56" y="409.60" width="3.93" height="92.40"/><rect x="288.49" y="422.50" width="3.93" height="79.50"/><rect x="292.42" y="445.64" width="3.93" height="56.36"/><rect x="296.35" y="460.20" width="3.93" height="41.80"/><rect x="300.28" y="474.19" width="3.93" height="27.81"/><rect x="304.21" y="485.04" width="3.93" height="16.96"/><rect x="308.14" y="493.19" width="3.93" height="8.81"/><rect x="312.07" y="497.59" width="3.93" height="4.41"/><rect x="316.00" y="499.98" width="3.93" height="2.02"/><rect x="319.93" y="501.18" width="3.93" height="0.82"/><rect x="323.86" y="501.69" width="3.93" height="0.31"/></g>
<polyline points="232.00,500.70 232.80,500.70 233.60,500.70 234.40,500.70 235.21,500.70 236.01,500.70 236.81,500.70 237.61,500.70 238.41,500.70 239.21,500.70 240.01,500.70 240.82,500.70 241.62,500.70 242.42,500.70 243.22,500.70 244.02,500.70 244.82,500.70 245.62,500.70 246.43,500.63 247.23,500.36 248.03,500.04 248.83,499.67 249.63,499.25 250.43,498.76 251.23,498.20 252.04,497.56 252.84,496.83 253.64,496.00 254.44,495.08 255.24,494.04 256.04,492.88 256.84,491.59 257.65,490.17 258.45,488.61 259.25,486.90 260.05,485.04 260.85,483.03 261.65,480.86 262.45,478.55 263.26,476.08 264.06,473.46 264.86,470.71 265.66,467.82 266.46,464.82 267.26,461.72 268.06,458.53 268.87,455.27 269.67,451.97 270.47,448.65 271.27,445.34 272.07,442.06 272.87,438.84 273.67,435.71 274.48,432.71 275.28,429.85 276.08,427.18 276.88,424.72 277.68,422.49 278.48,420.52 279.28,418.84 280.09,417.46 280.89,416.39 281.69,415.66 282.49,415.27 283.29,415.22 284.09,415.52 284.89,416.16 285.70,417.13 286.50,418.43 287.30,420.03 288.10,421.92 288.90,424.08 289.70,426.49 290.50,429.10 291.31,431.91 292.11,434.88 292.91,437.98 293.71,441.17 294.51,444.44 295.31,447.75 296.11,451.07 296.92,454.38 297.72,457.65 298.52,460.86 299.32,463.99 300.12,467.02 300.92,469.93 301.72,472.72 302.53,475.38 303.33,477.89 304.13,480.25 304.93,482.45 305.73,484.51 306.53,486.41 307.33,488.16 308.14,489.76 308.94,491.22 309.74,492.54 310.54,493.73 311.34,494.80 312.14,495.76 312.94,496.61 313.75,497.37 314.55,498.03 315.35,498.61 316.15,499.12 316.95,499.56 317.75,499.95 318.55,500.28 319.36,500.56 320.16,500.70 320.96,500.70 321.76,500.70 322.56,500.70 323.36,500.70 324.16,500.70 324.97,500.70 325.77,500.70 326.57,500.70 327.37,500.70 328.17,500.70 328.97,500.70 329.77,500.70 330.58,500.70 331.38,500.70 332.18,500.70 332.98,500.70 333.78,500.70 334.58,500.70 335.38,500.70 336.19,500.70 336.99,500.70 337.79,500.70 338.59,500.70 339.39,500.70 340.19,500.70 340.99,500.70 341.80,500.70 342.60,500.70 343.40,500.70 344.20,500.70" fill="none" stroke="#ff0c0c" stroke-width="3.0" stroke-linejoin="round"/>
<rect x="224.56" y="387.67" width="126.64" height="114.33" fill="none" stroke="#8c8c8c" stroke-width="1.8"/>
<path d="M238.70 387.67v1.6M238.70 502.00v-1.6M258.00 387.67v1.6M258.00 502.00v-1.6M277.60 387.67v1.6M277.60 502.00v-1.6M297.60 387.67v1.6M297.60 502.00v-1.6M317.10 387.67v1.6M317.10 502.00v-1.6M336.90 387.67v1.6M336.90 502.00v-1.6M224.56 502.00h1.6M351.20 502.00h-1.6M224.56 473.42h1.6M351.20 473.42h-1.6M224.56 444.84h1.6M351.20 444.84h-1.6M224.56 416.25h1.6M351.20 416.25h-1.6M224.56 387.67h1.6M351.20 387.67h-1.6" stroke="#dddddd" stroke-width="1.2" fill="none"/>
<text transform="translate(221.06 507.00) scale(1 1.1)" text-anchor="end" class="t">0</text>
<text transform="translate(221.06 478.42) scale(1 1.1)" text-anchor="end" class="t">10</text>
<text transform="translate(221.06 449.84) scale(1 1.1)" text-anchor="end" class="t">20</text>
<text transform="translate(221.06 421.25) scale(1 1.1)" text-anchor="end" class="t">30</text>
<text transform="translate(221.06 392.67) scale(1 1.1)" text-anchor="end" class="t">40</text>
<text transform="translate(258.00 519.90) scale(1 1.1)" text-anchor="middle" class="t">3.1</text>
<text transform="translate(297.60 519.90) scale(1 1.1)" text-anchor="middle" class="t">3.14</text>
<text transform="translate(336.90 519.90) scale(1 1.1)" text-anchor="middle" class="t">3.18</text>
<text x="280.38" y="377.67" class="ti"><tspan font-style="normal">π</tspan><tspan dy="7.6" dx="0.3" font-size="11.5">a</tspan></text>
<g fill="#a1563d" stroke="#3e1a16" stroke-width="1"><rect x="404.60" y="501.22" width="4.00" height="0.78"/><rect x="408.60" y="500.19" width="4.00" height="1.81"/><rect x="412.60" y="498.15" width="4.00" height="3.85"/><rect x="416.60" y="494.69" width="4.00" height="7.31"/><rect x="420.60" y="488.50" width="4.00" height="13.50"/><rect x="424.60" y="480.30" width="4.00" height="21.70"/><rect x="428.60" y="467.02" width="4.00" height="34.98"/><rect x="432.60" y="452.62" width="4.00" height="49.38"/><rect x="436.60" y="440.03" width="4.00" height="61.97"/><rect x="440.60" y="428.99" width="4.00" height="73.01"/><rect x="444.60" y="410.80" width="4.00" height="91.20"/><rect x="448.60" y="411.70" width="4.00" height="90.30"/><rect x="452.60" y="416.60" width="4.00" height="85.40"/><rect x="456.60" y="431.89" width="4.00" height="70.11"/><rect x="460.60" y="447.93" width="4.00" height="54.07"/><rect x="464.60" y="459.52" width="4.00" height="42.48"/><rect x="468.60" y="474.80" width="4.00" height="27.20"/><rect x="472.60" y="483.91" width="4.00" height="18.09"/><rect x="476.60" y="492.07" width="4.00" height="9.93"/><rect x="480.60" y="496.64" width="4.00" height="5.36"/><rect x="484.60" y="499.28" width="4.00" height="2.72"/><rect x="488.60" y="500.83" width="4.00" height="1.17"/><rect x="492.60" y="501.51" width="4.00" height="0.49"/></g>
<polyline points="396.30,500.70 397.11,500.70 397.91,500.70 398.72,500.70 399.53,500.70 400.33,500.70 401.14,500.70 401.94,500.70 402.75,500.70 403.56,500.70 404.36,500.70 405.17,500.70 405.98,500.70 406.78,500.70 407.59,500.70 408.40,500.70 409.20,500.69 410.01,500.46 410.82,500.19 411.62,499.87 412.43,499.52 413.24,499.11 414.04,498.65 414.85,498.13 415.65,497.54 416.46,496.87 417.27,496.13 418.07,495.30 418.88,494.39 419.69,493.37 420.49,492.25 421.30,491.03 422.11,489.69 422.91,488.23 423.72,486.65 424.52,484.95 425.33,483.12 426.14,481.16 426.94,479.08 427.75,476.87 428.56,474.54 429.36,472.09 430.17,469.53 430.98,466.88 431.78,464.13 432.59,461.30 433.40,458.40 434.20,455.45 435.01,452.47 435.81,449.47 436.62,446.47 437.43,443.50 438.23,440.57 439.04,437.71 439.85,434.94 440.65,432.29 441.46,429.76 442.27,427.39 443.07,425.20 443.88,423.21 444.69,421.44 445.49,419.89 446.30,418.60 447.11,417.56 447.91,416.80 448.72,416.31 449.52,416.11 450.33,416.19 451.14,416.55 451.94,417.20 452.75,418.11 453.56,419.30 454.36,420.73 455.17,422.41 455.98,424.31 456.78,426.42 457.59,428.71 458.39,431.17 459.20,433.77 460.01,436.49 460.81,439.32 461.62,442.22 462.43,445.18 463.23,448.16 464.04,451.16 464.85,454.16 465.65,457.12 466.46,460.04 467.27,462.90 468.07,465.69 468.88,468.39 469.69,470.99 470.49,473.49 471.30,475.87 472.10,478.13 472.91,480.27 473.72,482.28 474.52,484.16 475.33,485.92 476.14,487.56 476.94,489.07 477.75,490.46 478.56,491.73 479.36,492.90 480.17,493.96 480.98,494.92 481.78,495.78 482.59,496.56 483.39,497.26 484.20,497.88 485.01,498.43 485.81,498.92 486.62,499.35 487.43,499.72 488.23,500.05 489.04,500.34 489.85,500.59 490.65,500.70 491.46,500.70 492.26,500.70 493.07,500.70 493.88,500.70 494.68,500.70 495.49,500.70 496.30,500.70 497.10,500.70 497.91,500.70 498.72,500.70 499.52,500.70 500.33,500.70 501.14,500.70 501.94,500.70 502.75,500.70 503.56,500.70 504.36,500.70 505.17,500.70 505.97,500.70 506.78,500.70 507.59,500.70 508.39,500.70 509.20,500.70" fill="none" stroke="#ff0c0c" stroke-width="3.0" stroke-linejoin="round"/>
<rect x="390.20" y="387.67" width="124.60" height="114.33" fill="none" stroke="#8c8c8c" stroke-width="1.8"/>
<path d="M395.90 387.67v1.6M395.90 502.00v-1.6M447.70 387.67v1.6M447.70 502.00v-1.6M499.70 387.67v1.6M499.70 502.00v-1.6M390.20 502.00h1.6M514.80 502.00h-1.6M390.20 473.42h1.6M514.80 473.42h-1.6M390.20 444.84h1.6M514.80 444.84h-1.6M390.20 416.25h1.6M514.80 416.25h-1.6M390.20 387.67h1.6M514.80 387.67h-1.6" stroke="#dddddd" stroke-width="1.2" fill="none"/>
<text transform="translate(385.30 507.00) scale(1 1.1)" text-anchor="end" class="t">0</text>
<text transform="translate(385.30 478.42) scale(1 1.1)" text-anchor="end" class="t">10</text>
<text transform="translate(385.30 449.84) scale(1 1.1)" text-anchor="end" class="t">20</text>
<text transform="translate(385.30 421.25) scale(1 1.1)" text-anchor="end" class="t">30</text>
<text transform="translate(385.30 392.67) scale(1 1.1)" text-anchor="end" class="t">40</text>
<text transform="translate(395.90 519.90) scale(1 1.1)" text-anchor="middle" class="t">-0.05</text>
<text transform="translate(447.70 519.90) scale(1 1.1)" text-anchor="middle" class="t">0</text>
<text transform="translate(499.70 519.90) scale(1 1.1)" text-anchor="middle" class="t">0.05</text>
<text x="445.00" y="377.67" class="ti"><tspan font-style="normal">θ</tspan><tspan dy="7.6" dx="0.3" font-size="11.5">b</tspan></text>
<g fill="#a1563d" stroke="#3e1a16" stroke-width="1"><rect x="581.10" y="501.39" width="3.90" height="0.61"/><rect x="585.00" y="500.49" width="3.90" height="1.51"/><rect x="588.90" y="498.46" width="3.90" height="3.54"/><rect x="592.80" y="494.86" width="3.90" height="7.14"/><rect x="596.70" y="489.06" width="3.90" height="12.94"/><rect x="600.60" y="480.16" width="3.90" height="21.84"/><rect x="604.50" y="470.36" width="3.90" height="31.64"/><rect x="608.40" y="460.68" width="3.90" height="41.32"/><rect x="612.30" y="452.18" width="3.90" height="49.82"/><rect x="616.20" y="446.24" width="3.90" height="55.76"/><rect x="620.10" y="445.50" width="3.90" height="56.50"/><rect x="624.00" y="457.07" width="3.90" height="44.93"/><rect x="627.90" y="464.84" width="3.90" height="37.16"/><rect x="631.80" y="475.48" width="3.90" height="26.52"/><rect x="635.70" y="485.71" width="3.90" height="16.29"/><rect x="639.60" y="492.64" width="3.90" height="9.36"/><rect x="643.50" y="497.32" width="3.90" height="4.68"/><rect x="647.40" y="499.77" width="3.90" height="2.23"/><rect x="651.30" y="501.07" width="3.90" height="0.93"/><rect x="655.20" y="501.65" width="3.90" height="0.35"/></g>
<polyline points="562.00,500.70 562.80,500.70 563.60,500.70 564.40,500.70 565.19,500.70 565.99,500.70 566.79,500.70 567.59,500.70 568.39,500.70 569.19,500.70 569.99,500.70 570.78,500.70 571.58,500.70 572.38,500.70 573.18,500.70 573.98,500.70 574.78,500.70 575.58,500.70 576.37,500.70 577.17,500.70 577.97,500.70 578.77,500.70 579.57,500.70 580.37,500.70 581.17,500.70 581.96,500.70 582.76,500.70 583.56,500.70 584.36,500.70 585.16,500.70 585.96,500.70 586.76,500.53 587.55,500.24 588.35,499.91 589.15,499.53 589.95,499.10 590.75,498.60 591.55,498.03 592.35,497.38 593.14,496.66 593.94,495.85 594.74,494.95 595.54,493.95 596.34,492.85 597.14,491.65 597.94,490.35 598.73,488.93 599.53,487.41 600.33,485.78 601.13,484.05 601.93,482.22 602.73,480.31 603.53,478.31 604.32,476.25 605.12,474.13 605.92,471.96 606.72,469.77 607.52,467.58 608.32,465.40 609.12,463.25 609.91,461.16 610.71,459.14 611.51,457.23 612.31,455.43 613.11,453.78 613.91,452.29 614.71,450.97 615.50,449.86 616.30,448.96 617.10,448.28 617.90,447.83 618.70,447.62 619.50,447.65 620.30,447.92 621.09,448.42 621.89,449.16 622.69,450.11 623.49,451.28 624.29,452.63 625.09,454.17 625.89,455.86 626.68,457.68 627.48,459.63 628.28,461.66 629.08,463.77 629.88,465.93 630.68,468.12 631.48,470.31 632.27,472.50 633.07,474.65 633.87,476.76 634.67,478.81 635.47,480.79 636.27,482.68 637.07,484.48 637.86,486.19 638.66,487.79 639.46,489.29 640.26,490.68 641.06,491.96 641.86,493.13 642.66,494.21 643.45,495.18 644.25,496.06 645.05,496.85 645.85,497.55 646.65,498.17 647.45,498.72 648.25,499.21 649.04,499.63 649.84,500.00 650.64,500.32 651.44,500.59 652.24,500.70 653.04,500.70 653.84,500.70 654.63,500.70 655.43,500.70 656.23,500.70 657.03,500.70 657.83,500.70 658.63,500.70 659.43,500.70 660.22,500.70 661.02,500.70 661.82,500.70 662.62,500.70 663.42,500.70 664.22,500.70 665.02,500.70 665.81,500.70 666.61,500.70 667.41,500.70 668.21,500.70 669.01,500.70 669.81,500.70 670.61,500.70 671.40,500.70 672.20,500.70 673.00,500.70 673.80,500.70" fill="none" stroke="#ff0c0c" stroke-width="3.0" stroke-linejoin="round"/>
<rect x="555.00" y="387.67" width="125.40" height="114.33" fill="none" stroke="#8c8c8c" stroke-width="1.8"/>
<path d="M574.90 387.67v1.6M574.90 502.00v-1.6M602.70 387.67v1.6M602.70 502.00v-1.6M630.40 387.67v1.6M630.40 502.00v-1.6M658.20 387.67v1.6M658.20 502.00v-1.6M555.00 502.00h1.6M680.40 502.00h-1.6M555.00 473.42h1.6M680.40 473.42h-1.6M555.00 444.84h1.6M680.40 444.84h-1.6M555.00 416.25h1.6M680.40 416.25h-1.6M555.00 387.67h1.6M680.40 387.67h-1.6" stroke="#dddddd" stroke-width="1.2" fill="none"/>
<text transform="translate(550.30 507.00) scale(1 1.1)" text-anchor="end" class="t">0</text>
<text transform="translate(550.30 478.42) scale(1 1.1)" text-anchor="end" class="t">10</text>
<text transform="translate(550.30 449.84) scale(1 1.1)" text-anchor="end" class="t">20</text>
<text transform="translate(550.30 421.25) scale(1 1.1)" text-anchor="end" class="t">30</text>
<text transform="translate(550.30 392.67) scale(1 1.1)" text-anchor="end" class="t">40</text>
<text transform="translate(574.90 519.90) scale(1 1.1)" text-anchor="middle" class="t">3.05</text>
<text transform="translate(602.70 519.90) scale(1 1.1)" text-anchor="middle" class="t">3.1</text>
<text transform="translate(630.40 519.90) scale(1 1.1)" text-anchor="middle" class="t">3.15</text>
<text transform="translate(658.20 519.90) scale(1 1.1)" text-anchor="middle" class="t">3.2</text>
<text x="610.20" y="377.67" class="ti"><tspan font-style="normal">π</tspan><tspan dy="7.6" dx="0.3" font-size="11.5">b</tspan></text>
<line x1="226.44" y1="388.8" x2="226.44" y2="501" stroke="#c8c8c8" stroke-width="1.2"/>
<line x1="678.6" y1="389.2" x2="678.6" y2="501" stroke="#c8c8c8" stroke-width="1.2"/>
<line x1="684.5" y1="17" x2="684.5" y2="124" stroke="#555" stroke-width="1"/>
<line x1="684.5" y1="189" x2="684.5" y2="295" stroke="#555" stroke-width="1"/>
<path d="M119.9 425.6H123.6" stroke="#b0b0b0" stroke-width="1" fill="none"/>
<path d="M283 409.4H290.2" stroke="#d0d0d0" stroke-width="1.2" fill="none"/>
<path d="M444 410.6H454" stroke="#909090" stroke-width="1" fill="none"/>
<path d="M620.1 445.5H625.7V452" stroke="#c0c0c0" stroke-width="1" fill="none"/>
<text transform="translate(360.90 355.50) scale(1 1.1)" text-anchor="middle" class="lb">Photon number</text>
<text transform="translate(360.90 535.70) scale(1 1.1)" text-anchor="middle" class="lb">Phase (rad)</text>
<text transform="translate(12.3 166.4) rotate(-90)" text-anchor="middle" class="lb">Probability (arb. units)</text>
<text transform="translate(12.3 433.6) rotate(-90)" text-anchor="middle" class="lb">Probability (arb. units)</text>
</svg>
</body></html>
